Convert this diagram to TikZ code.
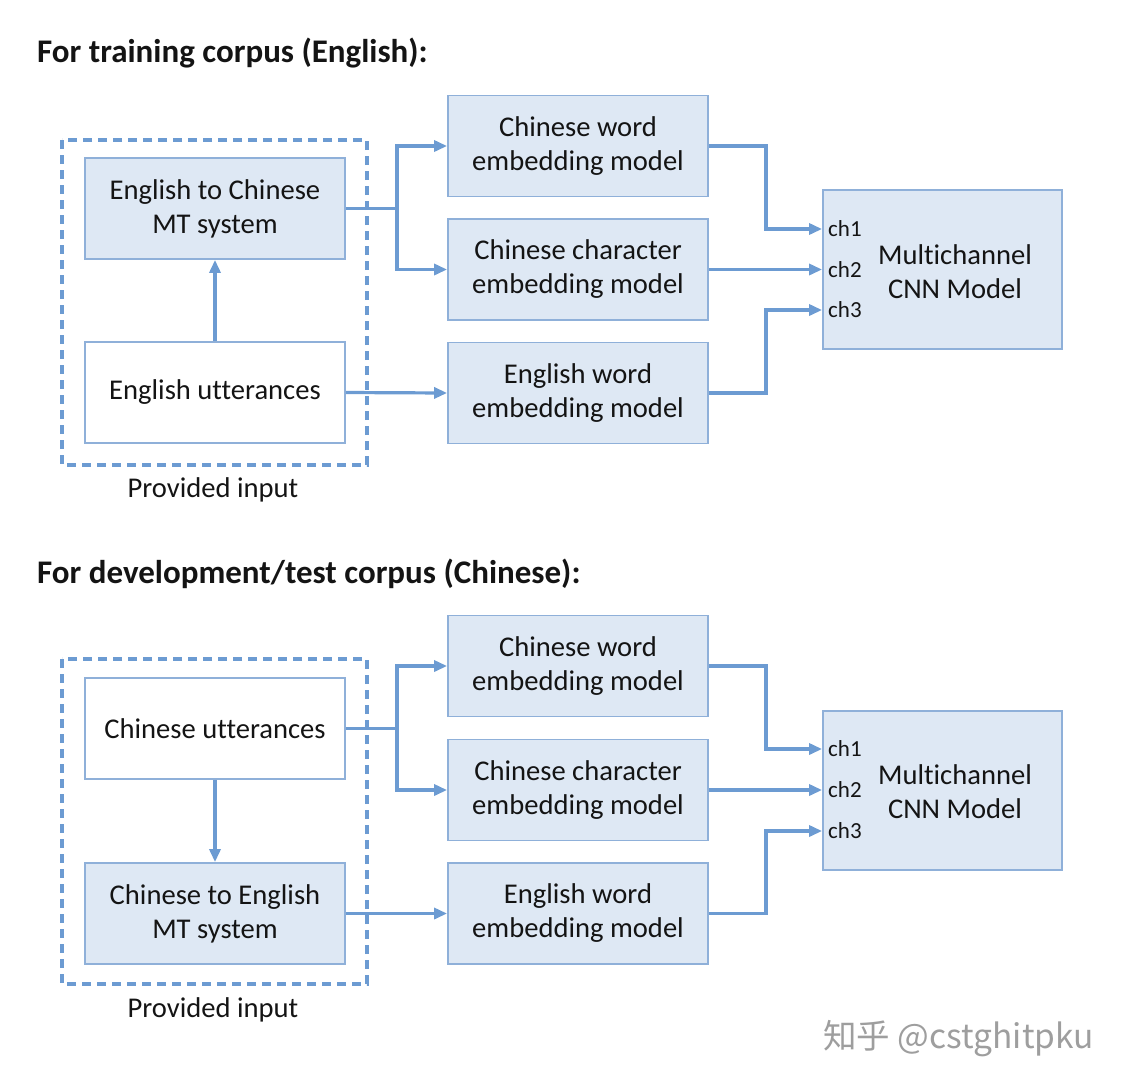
\documentclass[tikz,border=0pt]{standalone}
\usepackage{fontspec}
\setmainfont{Carlito}[Ligatures={NoCommon}]
\newfontfamily\cjk{Noto Sans CJK SC}
\usetikzlibrary{arrows.meta}
\definecolor{boxfill}{HTML}{DEE8F4}
\definecolor{boxline}{HTML}{8FB0D9}
\definecolor{conn}{HTML}{6C9BD2}
\definecolor{txt}{HTML}{141414}
\begin{document}
\begin{tikzpicture}[x=1pt,y=-1pt,
  every node/.style={text=txt, font=\fontsize{28.6}{34}\selectfont},
  basebox/.style={draw=boxline, line width=1.8pt, minimum width=260pt, minimum height=101pt, inner sep=0pt, align=center},
  bluebox/.style={basebox, fill=boxfill},
  whitebox/.style={basebox, fill=white},
  cnnbox/.style={basebox, fill=boxfill, minimum width=239pt, minimum height=159pt},
  dashbox/.style={draw=conn, line width=3.3pt, dash pattern=on 9pt off 6pt},
  link/.style={draw=conn, line width=3.2pt, -{Triangle[length=13pt,width=11pt]}},
  plain/.style={draw=conn, line width=3.2pt},
  title/.style={font=\fontsize{33}{38}\selectfont\bfseries, anchor=base west, inner sep=0pt},
  chlab/.style={font=\fontsize{23}{26}\selectfont, anchor=west, inner sep=0pt},
  cnntext/.style={align=center, inner sep=0pt},
  caption/.style={inner sep=0pt}
]
\useasboundingbox (0,0) rectangle (1126,1090);

% ---------------- Top section ----------------
\node[title] (t1) at (37,62) {For training corpus (English):};
\draw[dashbox] (62,140) rectangle (367,465);
\node[caption] (p1) at (213,490) {Provided input};

\node[bluebox] (mt1) at (215,208.5) {English to Chinese\\MT system};
\node[whitebox] (ut1) at (215,392.5) {English utterances};
\node[bluebox] (cw1) at (578,146) {Chinese word\\embedding model};
\node[bluebox] (cc1) at (578,269.5) {Chinese character\\embedding model};
\node[bluebox] (ew1) at (578,393) {English word\\embedding model};
\node[cnnbox] (mc1) at (942.5,269.5) {};
\node[cnntext] (mct1) at (955,272) {Multichannel\\CNN Model};
\node[chlab] (c11) at (828,229) {ch1};
\node[chlab] (c12) at (828,269.5) {ch2};
\node[chlab] (c13) at (828,310) {ch3};

\coordinate (f1) at (397,208.5);
\draw[plain] (mt1.east) -- (f1);
\draw[link] (f1) |- (cw1.west);
\draw[link] (f1) |- (cc1.west);
\draw[link] (ut1.north) -- (mt1.south);
\draw[link] (ut1.east) -- (ew1.west);
\draw[link] (cw1.east) -- (766,146) |- (mc1.west |- c11.west);
\draw[link] (cc1.east) -- (mc1.west |- c12.west);
\draw[link] (ew1.east) -- (766,393) |- (mc1.west |- c13.west);

% ---------------- Bottom section ----------------
\node[title] (t2) at (37,583) {For development/test corpus (Chinese):};
\draw[dashbox] (62,659) rectangle (367,984);
\node[caption] (p2) at (213,1010) {Provided input};

\node[whitebox] (cu2) at (215,728.5) {Chinese utterances};
\node[bluebox] (mt2) at (215,913.5) {Chinese to English\\MT system};
\node[bluebox] (cw2) at (578,666) {Chinese word\\embedding model};
\node[bluebox] (cc2) at (578,790) {Chinese character\\embedding model};
\node[bluebox] (ew2) at (578,913.5) {English word\\embedding model};
\node[cnnbox] (mc2) at (942.5,790.5) {};
\node[cnntext] (mct2) at (955,792) {Multichannel\\CNN Model};
\node[chlab] (c21) at (828,749) {ch1};
\node[chlab] (c22) at (828,790) {ch2};
\node[chlab] (c23) at (828,831) {ch3};

\coordinate (f2) at (397,728.5);
\draw[plain] (cu2.east) -- (f2);
\draw[link] (f2) |- (cw2.west);
\draw[link] (f2) |- (cc2.west);
\draw[link] (cu2.south) -- (mt2.north);
\draw[link] (mt2.east) -- (ew2.west);
\draw[link] (cw2.east) -- (766,666) |- (mc2.west |- c21.west);
\draw[link] (cc2.east) -- (mc2.west |- c22.west);
\draw[link] (ew2.east) -- (766,913.5) |- (mc2.west |- c23.west);

% watermark
\node[font=\cjk\fontsize{33.5}{38}\selectfont, text=black!38, anchor=west, inner sep=0pt] (wm) at (823,1039) {知乎 @cstghitpku};
\end{tikzpicture}
\end{document}
